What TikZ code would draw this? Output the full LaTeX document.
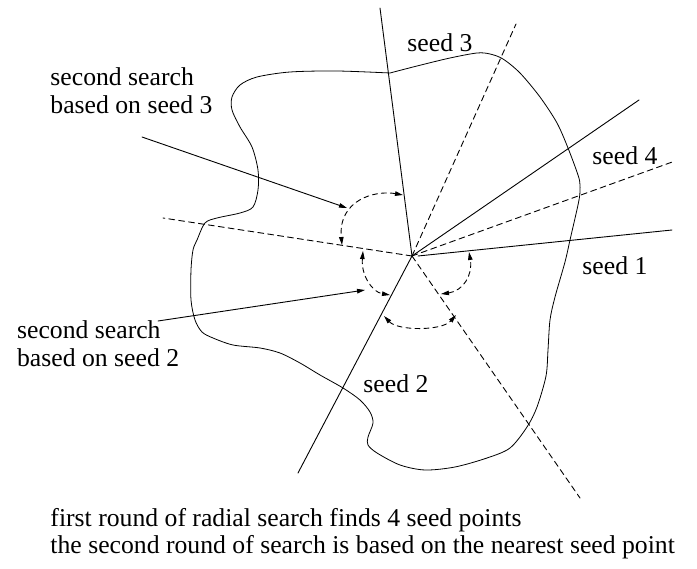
\documentclass[tikz,border=0pt]{standalone}
\usepackage{fontspec}
\setmainfont{Liberation Serif}
\usetikzlibrary{arrows.meta}

\tikzset{
  ray/.style={line width=0.9pt},
  guide/.style={line width=0.9pt, dash pattern=on 6pt off 4pt},
  sweep/.style={line width=0.9pt, dash pattern=on 5pt off 4pt,
    {Triangle[length=8pt,width=4.5pt]}-{Triangle[length=8pt,width=4.5pt]}},
  pointer/.style={line width=0.9pt, -{Triangle[length=8pt,width=4.5pt]}},
  lbl/.style={inner sep=0pt, font=\fontsize{25.7}{27.5}\selectfont},
}

\begin{document}
\begin{tikzpicture}[x=1pt, y=-1pt, line width=0.9pt, line cap=round, line join=round]

  %% ════ 中心与射线端点 ════
  \coordinate (c)  at (412,256);
  \coordinate (c1) at (418,256);
  \coordinate (r3) at (380,8);
  \coordinate (d1) at (516,24);
  \coordinate (r4) at (639,100);
  \coordinate (d2) at (675,161);
  \coordinate (r1) at (672,230);
  \coordinate (d3) at (580,498);
  \coordinate (r2) at (298,473);
  \coordinate (d4) at (163,218);

  %% ════ 区域边界（闭合曲线）════
  \draw[line width=0.8pt] plot[smooth, tension=0.5] coordinates {
    (390,73) (417,66) (450,58) (477,53) (490,54) (503,59) (520,73) (540,97)
    (557,123) (568,148) (578,175) (580,185) (579,200) (570,240) (565,262)
    (555,297) (550,320) (548,350) (546,376) (537,407) (527,427) (510,448)
    (487,458) (455,467) (425,470) (400,465) (377,453) (368,445) (368,437)
    (373,423) (370,412) (360,400) (343,388) (320,375) (300,363) (280,353)
    (260,348) (233,345) (213,338) (202,332) (195,320) (191,300) (191,270)
    (193,250) (197,240) (205,223) (217,218) (240,213) (253,207) (258,190)
    (258,170) (252,147) (240,127) (232,110) (232,97) (240,85) (257,77)
    (290,72) (337,71) (390,73)};

  %% ════ 种子射线（实线）与第一轮射线（虚线）════
  \draw[ray] (c) -- (r3);
  \draw[ray] (c) -- (r4);
  \draw[ray] (c1) -- (r1);
  \draw[ray] (c) -- (r2);
  \draw[guide] (c) -- (d1);
  \draw[guide] (c) -- (d2);
  \draw[guide] (c) -- (d3);
  \draw[guide] (c) -- (d4);

  %% ════ 第二轮搜索的扫描弧 ════
  \draw[sweep] (403,195) .. controls (375,190) and (338,200) .. (342,245);
  \draw[sweep] (363,251) .. controls (361,275) and (372,292) .. (390,295);
  \draw[sweep] (384,316) .. controls (398,331) and (442,331) .. (456,315);
  \draw[sweep] (441,294) .. controls (463,291) and (473,275) .. (469,252);

  %% ════ 标签 ════
  \node[lbl, anchor=base west] (seed3) at (407,52) {seed 3};
  \node[lbl, anchor=base west] (seed4) at (592,165) {seed 4};
  \node[lbl, anchor=base west] (seed1) at (582,275) {seed 1};
  \node[lbl, anchor=base west] (seed2) at (363,393) {seed 2};
  \node[lbl, anchor=north west, align=left] (note3) at (50,67.5) {second search\\based on seed 3};
  \node[lbl, anchor=north west, align=left] (note2) at (16.7,320.5) {second search\\based on seed 2};
  \node[lbl, anchor=north west, align=left] (caption) at (50,507.5)
    {first round of radial search finds 4 seed points\\the second round of search is based on the nearest seed point};

  %% ════ 指向扫描弧的箭头 ════
  \coordinate (p3) at (142,137);
  \coordinate (a3) at (347,208);
  \coordinate (p2) at (158,321);
  \coordinate (a2) at (365,290);
  \draw[pointer] (p3) -- (a3);
  \draw[pointer] (p2) -- (a2);

  % 钉死画布
  \pgfresetboundingbox
  \path[use as bounding box] (0,0) rectangle (697,569);
\end{tikzpicture}
\end{document}
